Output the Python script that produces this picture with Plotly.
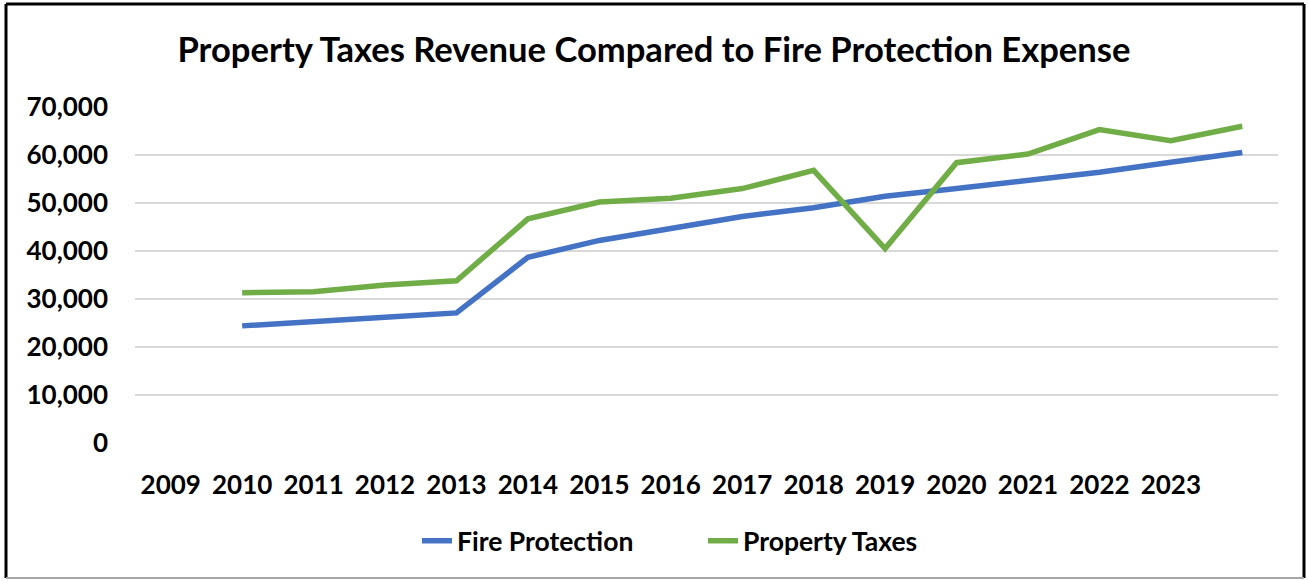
import plotly.graph_objects as go

# Data
data_years = [2010, 2011, 2012, 2013, 2014, 2015, 2016, 2017, 2018, 2019, 2020, 2021, 2022, 2023, 2024]
fire_protection = [24400, 25400, 26200, 27100, 38700, 42200, 44600, 47200, 49000, 51400, 53000, 54800, 56400, 58500, 60500]
property_taxes = [31300, 31500, 32900, 33800, 46700, 50200, 51000, 53000, 56800, 40500, 58400, 60200, 65300, 63000, 66000]
tick_years = [2009, 2010, 2011, 2012, 2013, 2014, 2015, 2016, 2017, 2018, 2019, 2020, 2021, 2022, 2023]
tick_labels = [str(y) for y in tick_years]

FONT = "Lato"
W, H = 1308, 581
L, R, T, B = 135, 30, 107, 138
PW, PH = W - L - R, H - T - B

def px_x(x):
    return (x - L) / PW

def px_y(y):
    return (H - B - y) / PH

fig = go.Figure()
fig.add_trace(go.Scatter(x=data_years, y=fire_protection, mode="lines", name="Fire Protection",
                         line=dict(color="#4472C4", width=5.5)))
fig.add_trace(go.Scatter(x=data_years, y=property_taxes, mode="lines", name="Property Taxes",
                         line=dict(color="#70AD47", width=5.5)))

fig.update_layout(
    width=W, height=H,
    margin=dict(l=L, r=R, t=T, b=B, pad=0),
    paper_bgcolor="white", plot_bgcolor="white",
    font=dict(family=FONT, size=26, color="black", weight="bold"),
    title=dict(text="<b>Property Taxes Revenue Compared to Fire Protection Expense</b>",
               x=0.5, xref="container", xanchor="center",
               y=1 - 50 / H, yref="container", yanchor="middle",
               font=dict(family=FONT, size=34.6, color="black")),
    showlegend=True,
    legend=dict(orientation="h", x=px_x(417), xanchor="left", y=px_y(541), yanchor="middle",
                font=dict(family=FONT, size=26.5, color="black", weight="bold"),
                entrywidth=241, entrywidthmode="pixels",
                bgcolor="rgba(0,0,0,0)"),
    xaxis=dict(range=[2008.5, 2024.5], tickmode="array", tickvals=tick_years, ticktext=tick_labels,
               showgrid=False, zeroline=False, showline=False, ticks="",
               ticklabelstandoff=24,
               tickfont=dict(family=FONT, size=26, color="black", weight="bold")),
    yaxis=dict(range=[0, 70000], dtick=10000, tickformat=",d", showgrid=True,
               gridcolor="#D9D9D9", gridwidth=1.5, zeroline=False, showline=False, ticks="",
               ticklabelstandoff=26,
               tickfont=dict(family=FONT, size=26, color="black", weight="bold")),
)

# Chart border
x0, x1 = px_x(6), px_x(1304)
y0, y1 = px_y(578), px_y(4)
fig.add_shape(type="line", xref="paper", yref="paper", x0=x0, x1=x0, y0=y0, y1=y1,
              line=dict(color="black", width=3))
fig.add_shape(type="line", xref="paper", yref="paper", x0=x1, x1=x1, y0=y0, y1=y1,
              line=dict(color="black", width=3))
fig.add_shape(type="line", xref="paper", yref="paper", x0=x0, x1=x1, y0=y1, y1=y1,
              line=dict(color="black", width=3))
fig.add_shape(type="line", xref="paper", yref="paper", x0=x0, x1=x1, y0=y0, y1=y0,
              line=dict(color="#A6A6A6", width=2))

fig.write_html("out.html")
